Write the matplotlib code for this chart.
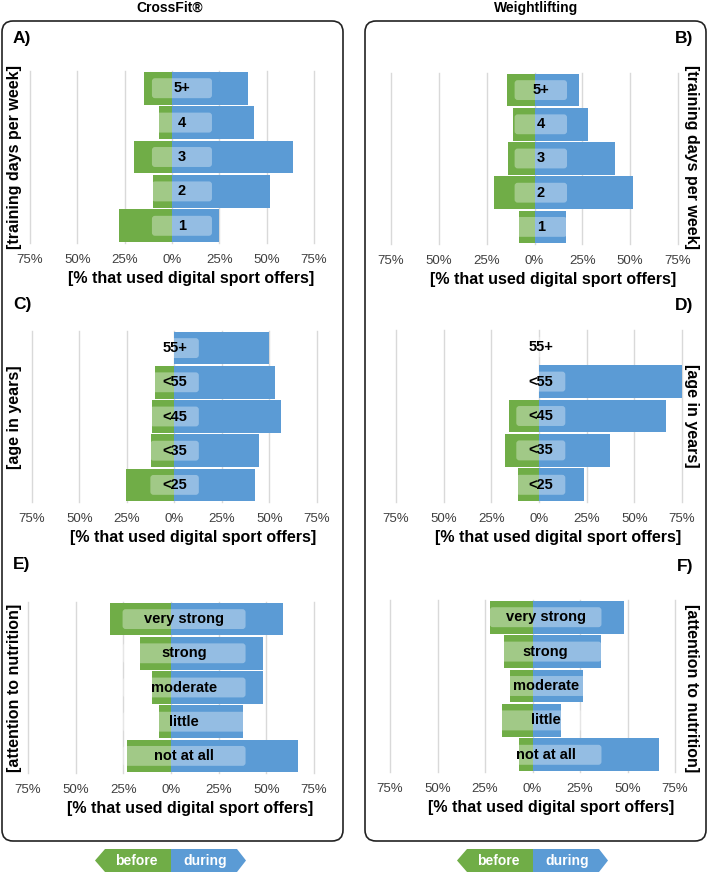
import numpy as np
import matplotlib
matplotlib.use('Agg')
import matplotlib.pyplot as plt
from matplotlib.patches import FancyBboxPatch, Polygon

plt.rcParams['font.family'] = ['Liberation Sans', 'DejaVu Sans']

GREEN = '#70AD47'
BLUE = '#5B9BD5'
GRID = '#D9D9D9'
W, H = 708, 872

# data, categories listed bottom to top
day_cats = ['1', '2', '3', '4', '5+']
cf_days_before = [28, 10, 20, 7, 15]
cf_days_during = [25, 52, 64, 43.5, 40]
wl_days_before = [8, 21, 14, 11, 14.5]
wl_days_during = [16.5, 51.5, 42, 28, 23.5]

age_cats = ['<25', '<35', '<45', '<55', '55+']
cf_age_before = [25.5, 12.5, 12, 10, 0]
cf_age_during = [42.5, 44.5, 56, 53, 50]
wl_age_before = [11, 18, 15.5, 0, 0]
wl_age_during = [23.5, 37, 66.5, 75, 0]

nut_cats = ['not at all', 'little', 'moderate', 'strong', 'very strong']
cf_nut_before = [23, 6.5, 10, 16.5, 32]
cf_nut_during = [66.5, 38, 48.5, 48, 59]
wl_nut_before = [7, 16, 12, 15, 22.5]
wl_nut_during = [66.5, 15, 26.5, 36, 48]

ticks = [-75, -50, -25, 0, 25, 50, 75]
tick_labels = ['75%', '50%', '25%', '0%', '25%', '50%', '75%']

fig = plt.figure(figsize=(W / 100, H / 100), dpi=100)

# background layer in pixel coords for frames + legend
bg = fig.add_axes([0, 0, 1, 1])
bg.set_xlim(0, W)
bg.set_ylim(H, 0)
bg.axis('off')


def px_axes(x0, x1, y0, y1):
    ax = fig.add_axes([x0 / W, 1 - y1 / H, (x1 - x0) / W, (y1 - y0) / H])
    ax.set_facecolor('none')
    return ax


def draw_panel(rect, cats, before, during, box_lo, box_hi):
    x0, x1, y0, y1 = rect
    ax = px_axes(*rect)
    y = np.arange(len(cats))
    for g in ticks:
        ax.axvline(g, color=GRID, lw=1, zorder=0, clip_on=False)
    ax.barh(y, [-b for b in before], height=0.95, color=GREEN, zorder=2)
    ax.barh(y, during, height=0.95, color=BLUE, zorder=2)
    ax.set_xlim(-75, 75)
    ax.set_ylim(-0.5, len(cats) - 0.5)
    ax.set_xticks(ticks)
    ax.set_xticklabels(tick_labels)
    ax.set_yticks([])
    for s in ax.spines.values():
        s.set_visible(False)
    ax.tick_params(axis='x', length=0, pad=8, labelsize=9.5, labelcolor='#404040')
    ax.set_xlabel('[% that used digital sport offers]', fontsize=11.5,
                  fontweight='bold', labelpad=3.5)
    # label sits a bit right of the axis centre
    ax.xaxis.label.set_x(0.5 + 19 / (x1 - x0))
    asp = ((x1 - x0) / 150) / ((y1 - y0) / len(cats))
    for i, c in enumerate(cats):
        box = FancyBboxPatch((box_lo, i - 0.29), box_hi - box_lo, 0.58,
                             boxstyle='round,pad=0,rounding_size=1.6',
                             mutation_aspect=asp, fc='white', ec='none',
                             alpha=0.35, zorder=3)
        ax.add_patch(box)
        ax.text((box_lo + box_hi) / 2, i, c, ha='center', va='center',
                fontsize=10.5, fontweight='bold', zorder=4)
    return ax


draw_panel((30, 314, 71, 243), day_cats, cf_days_before, cf_days_during, -10.6, 21.1)
draw_panel((391, 678, 73, 244), day_cats, wl_days_before, wl_days_during, -10.4, 17.0)
draw_panel((32, 317, 331, 502), age_cats, cf_age_before, cf_age_during, -12.7, 12.8)
draw_panel((396, 682, 330, 502), age_cats, wl_age_before, wl_age_during, -11.9, 13.8)
draw_panel((28, 314, 602, 773), nut_cats, cf_nut_before, cf_nut_during, -25.4, 39.1)
draw_panel((390, 675, 600, 772), nut_cats, wl_nut_before, wl_nut_during, -22.5, 36.3)

# frames
for fx0, fx1 in [(2, 343), (365, 706)]:
    bg.add_patch(FancyBboxPatch((fx0, 21), fx1 - fx0, 820,
                                boxstyle='round,pad=0,rounding_size=11',
                                fc='none', ec='#222222', lw=1.2))

# column titles
bg.text(170, 8, 'CrossFit®', ha='center', va='center', fontsize=10, fontweight='bold')
bg.text(536, 8, 'Weightlifting', ha='center', va='center', fontsize=10, fontweight='bold')

# panel letters
for lx, ly, lab, ha in [(13, 38, 'A)', 'left'), (693, 38, 'B)', 'right'),
                        (13, 304, 'C)', 'left'), (693, 305, 'D)', 'right'),
                        (13, 564, 'E)', 'left'), (693, 566, 'F)', 'right')]:
    bg.text(lx, ly, lab, ha=ha, va='center', fontsize=12.5, fontweight='bold')

# y axis titles
for tx, ty, lab, rot in [(15, 157, '[training days per week]', 90),
                         (15, 417, '[age in years]', 90),
                         (15, 688, '[attention to nutrition]', 90),
                         (691, 157, '[training days per week]', 270),
                         (691, 416, '[age in years]', 270),
                         (691, 688, '[attention to nutrition]', 270)]:
    bg.text(tx, ty, lab, ha='center', va='center', rotation=rot,
            fontsize=11.5, fontweight='bold')

# before / during legend arrows
for mid in [171, 533]:
    bg.add_patch(Polygon([(mid - 76, 860.5), (mid - 66, 849), (mid, 849),
                          (mid, 872), (mid - 66, 872)], closed=True, fc=GREEN, ec='none'))
    bg.add_patch(Polygon([(mid, 849), (mid + 66, 849), (mid + 75, 860.5),
                          (mid + 66, 872), (mid, 872)], closed=True, fc=BLUE, ec='none'))
    bg.text(mid - 35, 860.5, 'before', ha='center', va='center', color='white',
            fontsize=10, fontweight='bold')
    bg.text(mid + 34, 860.5, 'during', ha='center', va='center', color='white',
            fontsize=10, fontweight='bold')

fig.savefig('out.png', dpi=100)
